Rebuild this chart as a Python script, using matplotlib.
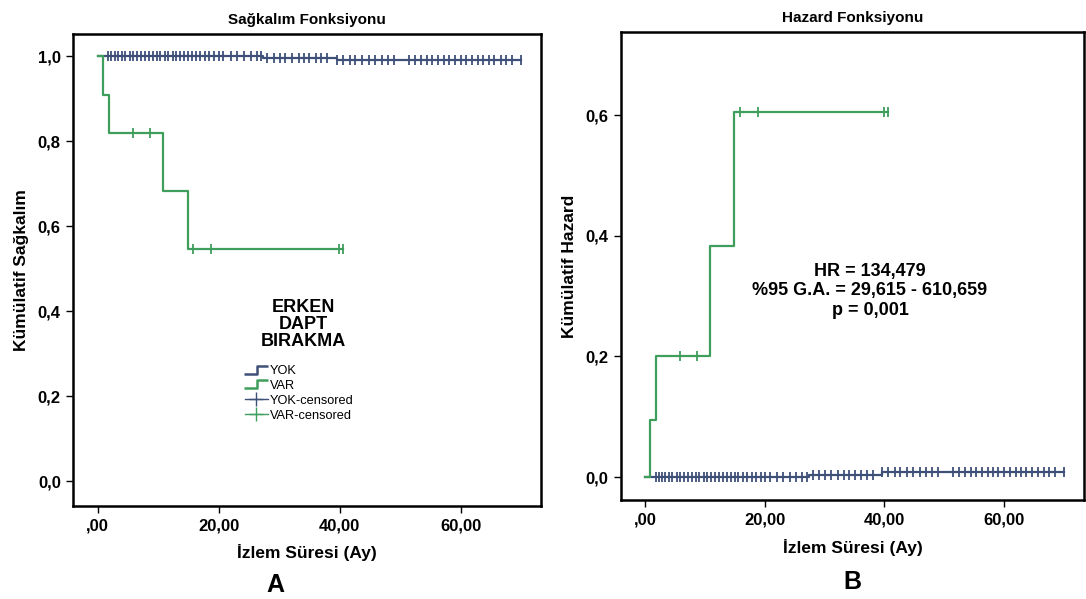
import matplotlib
matplotlib.use("Agg")
import matplotlib.pyplot as plt
from matplotlib.lines import Line2D
from matplotlib.path import Path
import numpy as np

plt.rcParams['font.family'] = ['Liberation Sans', 'DejaVu Sans']

# step curves (time in months)
yok_t = [0.0, 27.4, 39.5, 70.0]
yok_surv = [1.0, 0.9965, 0.992, 0.992]
yok_haz = [0.0, 0.0035, 0.008, 0.008]

var_t = [0.0, 0.85, 1.9, 10.8, 14.9, 40.6]
var_surv = [1.0, 0.909, 0.818, 0.682, 0.545, 0.545]
var_haz = [0.0, 0.095, 0.201, 0.383, 0.606, 0.606]

# censored observations
yok_cens = [1.8, 2.3, 2.9, 3.4, 4.1, 4.6, 5.3, 5.9, 6.6, 7.2, 7.9, 8.5, 9.1, 9.8,
            10.4, 11.1, 11.7, 12.4, 13.0, 13.7, 14.3, 15.0, 15.6, 16.3, 17.0, 17.8,
            18.5, 19.3, 20.1, 20.8, 22.0, 23.1, 24.2, 25.3, 26.3, 27.0, 28.0, 29.1,
            30.1, 31.0, 32.2, 33.3, 34.1, 35.0, 36.1, 37.0, 38.0, 39.6, 40.6, 41.7,
            42.6, 43.7, 44.8, 45.9, 47.0, 48.0, 49.0, 51.5, 52.5, 53.4, 54.4, 55.3,
            56.2, 57.2, 58.1, 59.0, 60.0, 60.9, 61.9, 62.8, 63.7, 64.7, 65.6, 66.6,
            67.5, 68.5, 70.0]
var_cens = [5.8, 8.7, 15.8, 18.8, 39.9, 40.6]

xticks = [0, 20, 40, 60]
xticklabels = [',00', '20,00', '40,00', '60,00']

c_yok = '#3f5078'
c_var = '#3f9e5c'


def step_value(t, times, vals):
    idx = np.searchsorted(times, t, side='right') - 1
    return np.array(vals)[idx]


fig = plt.figure(figsize=(10.86, 5.99), dpi=100)
axA = fig.add_axes([0.0675, 0.1558, 0.4307, 0.7874])
axB = fig.add_axes([0.5718, 0.1653, 0.4263, 0.7813])

for ax, yv, yl, ylim, yt, title in [
        (axA, (yok_surv, var_surv), 'Kümülatif Sağkalım', (-0.058, 1.052),
         [0.0, 0.2, 0.4, 0.6, 0.8, 1.0], 'Sağkalım Fonksiyonu'),
        (axB, (yok_haz, var_haz), 'Kümülatif Hazard', (-0.038, 0.738),
         [0.0, 0.2, 0.4, 0.6], 'Hazard Fonksiyonu')]:
    ax.step(yok_t, yv[0], where='post', color=c_yok, lw=1.6)
    ax.step(var_t, yv[1], where='post', color=c_var, lw=1.6)
    ax.plot(yok_cens, step_value(yok_cens, yok_t, yv[0]), ls='none',
            marker='|', ms=6.5, mew=1.3, color=c_yok)
    ax.plot(var_cens, step_value(var_cens, var_t, yv[1]), ls='none',
            marker='|', ms=6.5, mew=1.3, color=c_var)
    ax.set_xlim(-4, 73.3)
    ax.set_ylim(*ylim)
    ax.set_xticks(xticks)
    ax.set_xticklabels(xticklabels)
    ax.set_yticks(yt)
    ax.set_yticklabels([('%.1f' % v).replace('.', ',') for v in yt])
    ax.tick_params(direction='out', length=5, width=1, labelsize=12, pad=4)
    for lab in ax.get_xticklabels() + ax.get_yticklabels():
        lab.set_fontweight('bold')
    for s in ax.spines.values():
        s.set_linewidth(1.8)
    ax.set_ylabel(yl, fontsize=12.5, fontweight='bold', labelpad=6)
    ax.set_xlabel('İzlem Süresi (Ay)', fontsize=12.5, fontweight='bold', labelpad=8)
    ax.set_title(title, fontsize=11, fontweight='bold', pad=7)

fig.text(0.254, 0.012, 'A', fontsize=18, fontweight='bold', ha='center')
fig.text(0.785, 0.016, 'B', fontsize=18, fontweight='bold', ha='center')

# legend of panel A
axA.text(0.491, 0.385, 'ERKEN\nDAPT\nBIRAKMA', transform=axA.transAxes,
         ha='center', va='center', fontsize=13, fontweight='bold', linespacing=1.0)
step_marker = Path([(-1, -0.3), (0.1, -0.3), (0.1, 0.3), (1, 0.3)],
                   [Path.MOVETO, Path.LINETO, Path.LINETO, Path.LINETO])
handles = [
    Line2D([], [], color=c_yok, lw=0, marker=step_marker, ms=17, mew=1.8,
           mfc='none', mec=c_yok),
    Line2D([], [], color=c_var, lw=0, marker=step_marker, ms=17, mew=1.8,
           mfc='none', mec=c_var),
    Line2D([], [], color=c_yok, lw=1, marker='+', ms=10, mew=1),
    Line2D([], [], color=c_var, lw=1, marker='+', ms=10, mew=1),
]
axA.legend(handles, ['YOK', 'VAR', 'YOK-censored', 'VAR-censored'],
           loc='upper left', bbox_to_anchor=(0.367, 0.298), frameon=False,
           fontsize=9.2, handlelength=1.8, handletextpad=0.15,
           labelspacing=0.22, borderpad=0, borderaxespad=0)

axB.text(0.538, 0.447, 'HR = 134,479\n%95 G.A. = 29,615 - 610,659\np = 0,001',
         transform=axB.transAxes, ha='center', va='center', fontsize=13,
         fontweight='bold', linespacing=1.2)

fig.savefig('out.png', dpi=100)
